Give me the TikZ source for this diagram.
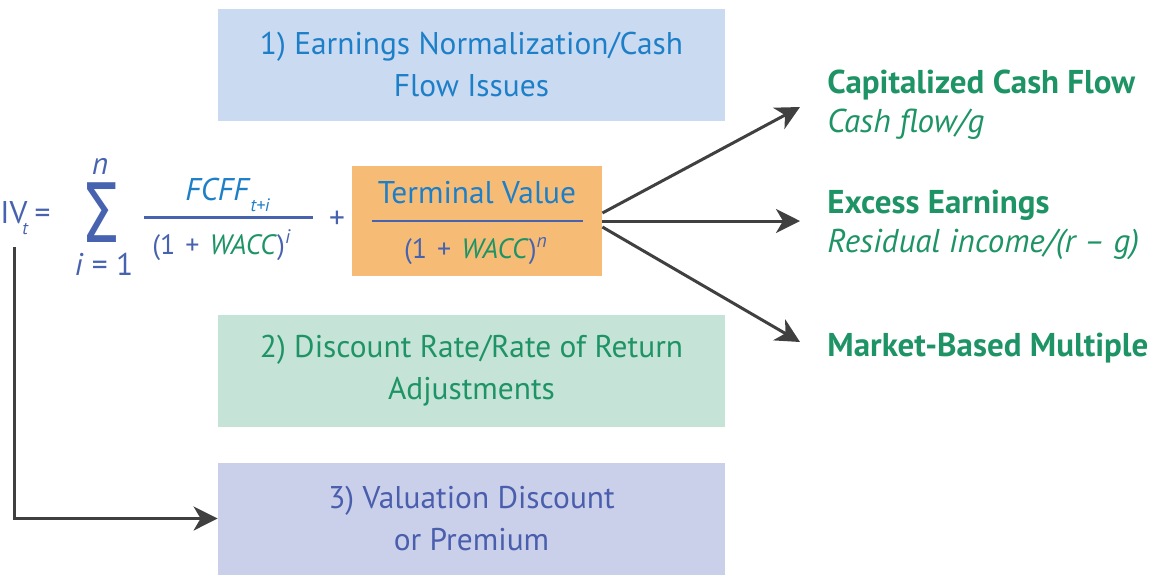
\documentclass[tikz,border=0pt]{standalone}
\usepackage{fontspec}
\setmainfont{PT Sans}
\newfontfamily\sumfont{DejaVu Sans}
\usetikzlibrary{arrows.meta}

\definecolor{issueblue}{HTML}{C9DAF1}
\definecolor{issuegreen}{HTML}{C6E3D8}
\definecolor{issuelav}{HTML}{CBD0EA}
\definecolor{tvorange}{HTML}{F6BC76}
\definecolor{textblue}{HTML}{1E7FC9}
\definecolor{textgreen}{HTML}{1E9466}
\definecolor{textlav}{HTML}{4A5EAE}
\definecolor{formblue}{HTML}{4763B0}
\definecolor{linegray}{HTML}{404040}

\newcommand{\bigfont}{\fontsize{15.7}{21}\selectfont}
\newcommand{\denfont}{\fontsize{14}{16}\selectfont}
\newcommand{\labelfont}{\fontsize{16.5}{19.5}\selectfont}
\newcommand{\lowidx}[1]{\raisebox{-5.5pt}{\fontsize{9}{9}\selectfont\textit{#1}}}
\newcommand{\waccden}[1]{(1\hspace{5pt}+\hspace{5pt}\textcolor{textgreen}{\textit{WACC}})\textsuperscript{\textit{#1}}}

\begin{document}
\begin{tikzpicture}[x=0.5pt,y=-0.5pt,>={Stealth[length=12pt,width=12pt,inset=3.5pt]},
  issue/.style={minimum width=253.5pt,minimum height=56pt,inner sep=0pt,align=center,font=\bigfont},
  formula/.style={inner sep=0pt,anchor=base west,text=formblue},
  method/.style={inner sep=0pt,anchor=west,align=left,text=textgreen,font=\labelfont},
  link/.style={->,draw=linegray,line width=1.5pt}]
  \useasboundingbox (0,0) rectangle (1162,580);

  % issue boxes
  \node[issue,fill=issueblue,text=textblue] (earn) at (471.5,65) {1) Earnings Normalization/Cash\\Flow Issues};
  \node[issue,fill=issuegreen,text=textgreen] (disc) at (471.5,371) {2) Discount Rate/Rate of Return\\Adjustments};
  \node[issue,fill=issuelav,text=textlav] (prem) at (471.5,518.5) {3) Valuation Discount\\or Premium};

  % value formula
  \node[formula,font=\bigfont] (ivt) at (0,223) {IV\kern-2.5pt\lowidx{t}\kern3pt=};
  \node[formula,anchor=base,font=\sumfont\fontsize{41}{41}\selectfont] (sum) at (101,242) {\scalebox{0.75}[1]{Σ}};
  \node[formula,anchor=base,font=\bigfont] (sumtop) at (100,174) {\textit{n}};
  \node[formula,anchor=base,font=\bigfont] (sumbot) at (104,275) {\textit{i} = 1};

  \node[formula,text=textblue,font=\bigfont] (fcff) at (185,200) {\textit{FCFF}\lowidx{t+i}};
  \draw[formblue,line width=1.2pt] (144,217.5) -- (313,217.5);
  \node[formula,anchor=base,font=\denfont] (den) at (222,254) {\waccden{i}};
  \node[formula,anchor=base,font=\bigfont] (plus) at (337,228) {+};

  % terminal value
  \node[fill=tvorange,minimum width=125pt,minimum height=55pt,inner sep=0pt] (tv) at (477,221) {};
  \node[formula,anchor=base,text=textblue,font=\bigfont] (tvnum) at (477,203) {Terminal Value};
  \draw[formblue,line width=1.2pt] (372,221) -- (583,221);
  \node[formula,anchor=base,font=\denfont] (tvden) at (476,258) {\waccden{n}};

  % methods
  \node[method] (capcf) at (827,105) {\textbf{Capitalized Cash Flow}\\\textit{Cash flow/g}};
  \node[method] (excess) at (827,225) {\textbf{Excess Earnings}\\\textit{Residual income/(r – g)}};
  \node[method] (multiple) at (827,348) {\textbf{Market-Based Multiple}};

  \draw[link] ([yshift=4pt]tv.east) -- ([xshift=-13.5pt,yshift=-1pt]capcf.west);
  \draw[link] (tv.east) -- ([xshift=-13.5pt]tv.east -| excess.west);
  \draw[link] ([yshift=-3pt]tv.east) -- ([xshift=-13.5pt,yshift=3pt]multiple.west);

  % discount or premium
  \coordinate (ivfoot) at (14.5,247);
  \draw[link] (ivfoot) |- (prem.west);
\end{tikzpicture}
\end{document}
